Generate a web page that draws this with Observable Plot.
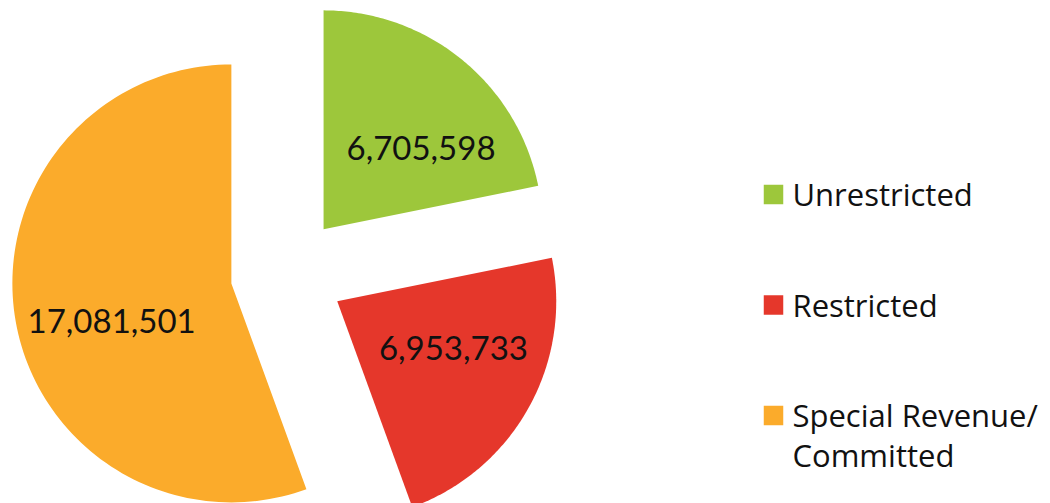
<!DOCTYPE html>
<html>
<head>
<meta charset="utf-8">
<script src="https://cdn.jsdelivr.net/npm/d3@7"></script>
<script src="https://cdn.jsdelivr.net/npm/@observablehq/plot@0.6"></script>
<style>
  html, body { margin: 0; padding: 0; background: #fff; }
  #chart svg { display: block; }
</style>
</head>
<body>
<div id="chart"></div>
<script>
// ---- data ----
const categories = ["Unrestricted", "Restricted", "Special Revenue/ Committed"];
const legendLabels = ["Unrestricted", "Restricted", "Special Revenue/\nCommitted"];
const values = [6705598, 6953733, 17081501];
const colors = ["#9dc73b", "#e5372b", "#fbab2b"];

// ---- layout ----
const W = 1050, H = 503;
const cx = 287, cy = 273, R = 219, explode = 57, labelR = 0.575 * R;
const labelTurn = [0.2, -0.115, -0.14];

const pie = d3.pie().sort(null).value(d => d.value);
const arcs = pie(categories.map((name, i) => ({name, value: values[i]})));

// slice outlines (apex + arc), exploded along bisector
const slicePts = [];
const labels = [];
arcs.forEach(a => {
  const mid = (a.startAngle + a.endAngle) / 2;
  const ax = cx + explode * Math.sin(mid);
  const ay = cy - explode * Math.cos(mid);
  slicePts.push({name: a.data.name, x: ax, y: ay});
  const n = 120;
  for (let k = 0; k <= n; k++) {
    const t = a.startAngle + (a.endAngle - a.startAngle) * k / n;
    slicePts.push({name: a.data.name, x: ax + R * Math.sin(t), y: ay - R * Math.cos(t)});
  }
  slicePts.push({name: a.data.name, x: ax, y: ay});
  const lm = mid + labelTurn[a.index];
  labels.push({
    name: a.data.name,
    text: d3.format(",")(a.data.value),
    x: ax + labelR * Math.sin(lm),
    y: ay - labelR * Math.cos(lm)
  });
});

// legend items
const legendX = 773, legendY0 = 194, legendStep = 110.5;
const legend = categories.map((name, i) => ({
  name, label: legendLabels[i], x: legendX, y: legendY0 + i * legendStep
}));

const chart = Plot.plot({
  width: W,
  height: H,
  margin: 0,
  x: {domain: [0, W], range: [0, W], axis: null},
  y: {domain: [0, H], range: [0, H], axis: null},
  color: {domain: categories, range: colors},
  style: {fontFamily: "Lato, 'Open Sans', sans-serif", background: "#fff"},
  marks: [
    Plot.line(slicePts, {x: "x", y: "y", z: "name", fill: "name", stroke: "none", curve: "linear", clip: true}),
    Plot.text(labels, {x: "x", y: "y", text: "text", fontSize: 33, fill: "#111"}),
    Plot.dot(legend, {x: "x", y: "y", symbol: "square", r: 11, fill: "name", stroke: "none"}),
    Plot.text(legend, {x: d => d.x + 19, y: "y", text: "label", textAnchor: "start", lineAnchor: "top", dy: -17, fontSize: 31, fontFamily: "'Open Sans', sans-serif", fill: "#111", lineHeight: 1.3})
  ]
});
document.getElementById("chart").appendChild(chart);
</script>
</body>
</html>
